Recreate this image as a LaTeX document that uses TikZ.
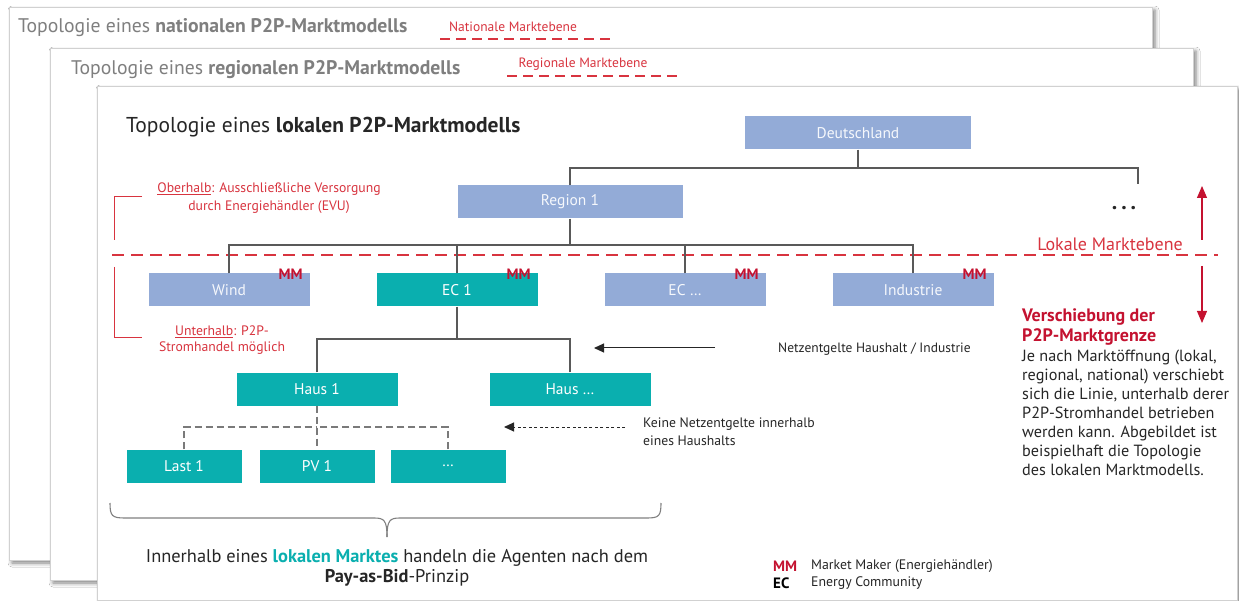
\documentclass[tikz,border=0pt]{standalone}
\usepackage{fontspec}
\setmainfont{PT Sans}
\usetikzlibrary{arrows.meta,shadows.blur,calc}
\definecolor{nblue}{HTML}{93ABD7}
\definecolor{nteal}{HTML}{0AAFAF}
\definecolor{rdark}{HTML}{C41230}
\definecolor{rlight}{HTML}{D8343F}
\definecolor{conn}{HTML}{595959}
\definecolor{ttl}{HTML}{7F7F7F}
\definecolor{txt}{HTML}{262626}
\newcommand\fsz[2]{\fontsize{#1}{#2}\selectfont}
\tikzset{
  card/.style={draw=black!18, fill=white, line width=0.8pt,
    blur shadow={shadow xshift=3pt, shadow yshift=-3pt, shadow blur radius=4pt, shadow opacity=50}},
  bluebox/.style={fill=nblue, draw=none, text=white!92!nblue, minimum height=33pt, inner sep=0pt, font=\fsz{15.5}{17}},
  tealbox/.style={fill=nteal, draw=none, text=white, minimum height=33pt, inner sep=0pt, font=\fsz{15.5}{17}},
  mmlabel/.style={text=rdark, font=\bfseries\fsz{15}{17}, inner sep=0pt},
  tree/.style={draw=conn, line width=1.1pt},
  hhline/.style={draw=conn!80, line width=1.3pt, dash pattern=on 7pt off 4pt},
  marketline/.style={draw=rlight, line width=1.6pt, dash pattern=on 12pt off 7pt},
  smallmarket/.style={draw=rlight, line width=1.4pt, dash pattern=on 10pt off 6pt},
  redtxt/.style={text=rlight, inner sep=0pt, align=center},
  plain/.style={inner sep=0pt, text=txt},
  bracket/.style={draw=rlight, line width=1pt},
}
\begin{document}
\begin{tikzpicture}[x=1pt,y=-1pt]
\useasboundingbox (0,0) rectangle (1239,601);
\fill[white] (0,0) rectangle (1239,601);
% cards
\path[card] (9,7) rectangle (1152,560);
\path[card] (50,48) rectangle (1193,580);
\path[card] (97,86) rectangle (1237,600);

% card titles
\node[plain, anchor=west, text=ttl, font=\fsz{19.7}{22}] (t1) at (18,28) {Topologie eines \textbf{nationalen P2P-Marktmodells}};
\node[redtxt, font=\fsz{13.5}{15}] (n1) at (513,27) {Nationale Marktebene};
\draw[smallmarket] (440,39) -- (616,39);
\node[plain, anchor=west, text=ttl, font=\fsz{19.7}{22}] (t2) at (71,70) {Topologie eines \textbf{regionalen P2P-Marktmodells}};
\node[redtxt, font=\fsz{13.5}{15}] (n2) at (583,64) {Regionale Marktebene};
\draw[smallmarket] (507,76) -- (683,76);
\node[plain, anchor=west, text=txt, font=\fsz{21.5}{24}] (t3) at (126,127) {Topologie eines \textbf{lokalen P2P-Marktmodells}};

% market line
\draw[marketline] (112,255) -- (1218,255);
\node[redtxt, font=\fsz{18}{20}] (lok) at (1110,244) {Lokale Marktebene};

% nodes
\node[bluebox, minimum width=226pt] (deu) at (858,133) {Deutschland};
\node[bluebox, minimum width=225pt] (reg) at (570,202) {Region 1};
\node[bluebox, minimum width=161pt] (wind) at (229,290) {Wind};
\node[tealbox, minimum width=161pt] (ec1) at (457,290) {EC 1};
\node[bluebox, minimum width=161pt] (ecx) at (685,290) {EC …};
\node[bluebox, minimum width=161pt] (ind) at (913,290) {Industrie};
\node[tealbox, minimum width=161pt] (h1) at (317,389) {Haus 1};
\node[tealbox, minimum width=161pt] (hx) at (570,389) {Haus …};
\node[tealbox, minimum width=115pt] (l1) at (184,466) {Last 1};
\node[tealbox, minimum width=115pt] (pv) at (317,466) {PV 1};
\node[tealbox, minimum width=115pt] (lx) at (448,466) {…};

% MM labels
\node[mmlabel, anchor=east] (mm1) at ($(wind.north east)+(-7,1)$) {MM};
\node[mmlabel, anchor=east] (mm2) at ($(ec1.north east)+(-7,1)$) {MM};
\node[mmlabel, anchor=east] (mm3) at ($(ecx.north east)+(-7,1)$) {MM};
\node[mmlabel, anchor=east] (mm4) at ($(ind.north east)+(-7,1)$) {MM};

% tree connectors
\coordinate (j1) at (858,168);
\coordinate (more) at (1138,184);
\draw[tree] (deu.south) -- (j1);
\draw[tree] (reg.north) |- (j1);
\draw[tree] (j1) -| (more);
\node[plain, font=\bfseries\fsz{22}{24}] (dots) at (1124,208) {.\hspace{4pt}.\hspace{4pt}.};
\coordinate (j2) at (570,245);
\draw[tree] (reg.south) -- (j2);
\draw[tree] (wind.north) |- (j2);
\draw[tree] (ec1.north) |- (j2);
\draw[tree] (ecx.north) |- (j2);
\draw[tree] (ind.north) |- (j2);
\coordinate (j3) at (457,339);
\draw[tree] (ec1.south) -- (j3);
\draw[tree] (h1.north) |- (j3);
\draw[tree] (hx.north) |- (j3);
\coordinate (j4) at (317,427);
\draw[hhline] (h1.south) -- (pv.north);
\draw[hhline] (l1.north) |- (j4);
\draw[hhline] (lx.north) |- (j4);

% explanation arrows
\node[plain, anchor=west, font=\fsz{13.5}{15}] (netz) at (778,349) {Netzentgelte Haushalt / Industrie};
\coordinate (a1s) at (715,348);
\coordinate (a1e) at (594,348);
\draw[txt, line width=1pt, -{Triangle[width=9pt,length=10pt]}] (a1s) -- (a1e);
\node[plain, anchor=west, align=left, font=\fsz{13.7}{18}] (keine) at (643,432) {Keine Netzentgelte innerhalb\\eines Haushalts};
\coordinate (a2s) at (625,427);
\coordinate (a2e) at (504,427);
\draw[txt, line width=1pt, dash pattern=on 3pt off 2.5pt, -{Triangle[width=9pt,length=10pt]}] (a2s) -- (a2e);

% left annotations
\node[redtxt, font=\fsz{13.7}{18}] (ober) at (269,198) {\underline{Oberhalb}: Ausschließliche Versorgung\\durch Energiehändler (EVU)};
\node[redtxt, font=\fsz{13.7}{16}] (unter) at (222,340) {\underline{Unterhalb}: P2P-\\Stromhandel möglich};
\draw[bracket] (142,197) -- (114,197) -- (114,240);
\draw[bracket] (114,267) -- (114,338) -- (142,338);

% right arrows and text
\coordinate (u1) at (1202,240);
\coordinate (u2) at (1202,186);
\coordinate (d1) at (1202,266);
\coordinate (d2) at (1202,323);
\draw[rdark, line width=1.2pt, -{Triangle[width=10pt,length=12pt]}] (u1) -- (u2);
\draw[rdark, line width=1.2pt, -{Triangle[width=10pt,length=12pt]}] (d1) -- (d2);
\node[anchor=west, inner sep=0pt, text=rdark, font=\bfseries\fsz{18}{20}, align=left] (vers) at (1022,327) {Verschiebung der\\P2P-Marktgrenze};
\node[plain, anchor=west, align=left, font=\fsz{16.2}{19}] (body) at (1022,413) {Je nach Marktöffnung (lokal,\\regional, national) verschiebt\\sich die Linie, unterhalb derer\\P2P-Stromhandel betrieben\\werden kann. Abgebildet ist\\beispielhaft die Topologie\\des lokalen Marktmodells.};

% brace
\draw[black!50, line width=1.1pt] (110,503) .. controls (110,516) and (112,518) .. (125,518) -- (374,518) .. controls (384,518) and (387,520) .. (387,537);
\draw[black!50, line width=1.1pt] (387,537) .. controls (387,520) and (390,518) .. (400,518) -- (647,518) .. controls (659,518) and (661,516) .. (661,503);

% bottom text
\node[plain, align=center, font=\fsz{18.4}{20}] (inner) at (397,568) {Innerhalb eines \textbf{\color{nteal}lokalen Marktes} handeln die Agenten nach dem\\\textbf{Pay-as-Bid}-Prinzip};

% legend
\node[mmlabel, anchor=west] (lgmm) at (773,566) {MM};
\node[plain, anchor=west, font=\fsz{13.8}{15}] (lgmmt) at (811,566) {Market Maker (Energiehändler)};
\node[anchor=west, inner sep=0pt, text=black, font=\bfseries\fsz{15}{17}] (lgec) at (773,583) {EC};
\node[plain, anchor=west, font=\fsz{13.8}{15}] (lgect) at (811,583) {Energy Community};
\end{tikzpicture}
\end{document}
